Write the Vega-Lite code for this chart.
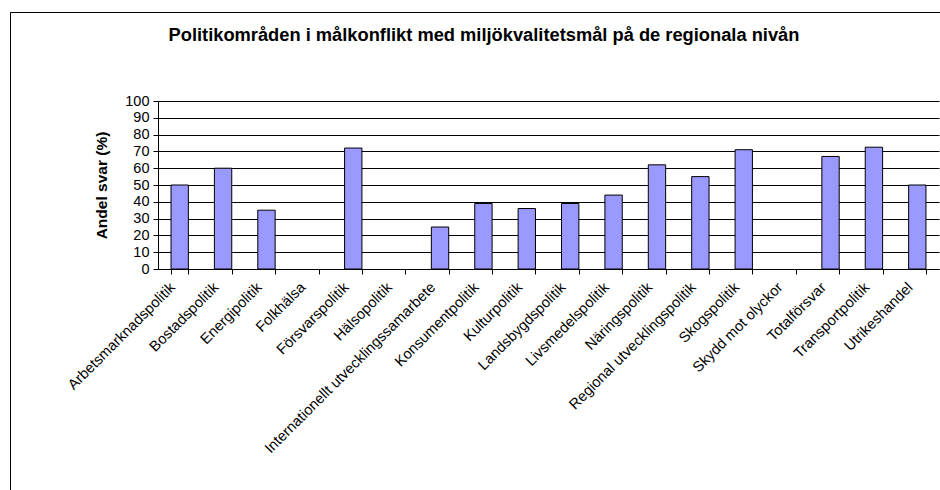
{
  "$schema": "https://vega.github.io/schema/vega-lite/v6.json",
  "autosize": {"type": "none"},
  "padding": {"left": 10, "top": 12, "right": 0, "bottom": 0},
  "width": 930,
  "height": 478,
  "background": "white",
  "config": {
    "font": "Liberation Sans",
    "view": {"stroke": "black", "strokeWidth": 1}
  },
  "title": {
    "text": "Politikområden i målkonflikt med miljökvalitetsmål på de regionala nivån",
    "font": "Liberation Sans",
    "fontSize": 18.3,
    "fontWeight": "bold",
    "color": "black",
    "anchor": "middle",
    "frame": "group",
    "offset": -33,
    "dx": 9
  },
  "data": {
    "values": [
      {"omrade": "Arbetsmarknadspolitik", "andel": 50},
      {"omrade": "Bostadspolitik", "andel": 60},
      {"omrade": "Energipolitik", "andel": 35},
      {"omrade": "Folkhälsa", "andel": 0},
      {"omrade": "Försvarspolitik", "andel": 72},
      {"omrade": "Hälsopolitik", "andel": 0},
      {"omrade": "Internationellt utvecklingssamarbete", "andel": 25},
      {"omrade": "Konsumentpolitik", "andel": 39},
      {"omrade": "Kulturpolitik", "andel": 36},
      {"omrade": "Landsbygdspolitik", "andel": 39},
      {"omrade": "Livsmedelspolitik", "andel": 44},
      {"omrade": "Näringspolitik", "andel": 62},
      {"omrade": "Regional utvecklingspolitik", "andel": 55},
      {"omrade": "Skogspolitik", "andel": 71},
      {"omrade": "Skydd mot olyckor", "andel": 0},
      {"omrade": "Totalförsvar", "andel": 67},
      {"omrade": "Transportpolitik", "andel": 72.5},
      {"omrade": "Utrikeshandel", "andel": 50}
    ]
  },
  "mark": {"type": "bar", "fill": "#9999FF", "stroke": "black", "strokeWidth": 1},
  "encoding": {
    "strokeOpacity": {"condition": {"test": "datum.andel == 0", "value": 0}, "value": 1},
    "x": {
      "field": "omrade",
      "type": "nominal",
      "sort": null,
      "scale": {"range": [148, 929], "paddingInner": 0.6, "paddingOuter": 0.3},
      "axis": {
        "title": null,
        "orient": "bottom",
        "offset": -221,
        "domainColor": "black",
        "tickColor": "black",
        "tickBand": "extent",
        "tickSize": 5,
        "labelAngle": -45,
        "labelAlign": "right",
        "labelBaseline": "middle",
        "labelPadding": 11,
        "labelOffset": -7,
        "labelFont": "Liberation Sans",
        "labelFontSize": 14.7,
        "labelColor": "black",
        "labelLimit": 0,
        "grid": false
      }
    },
    "y": {
      "field": "andel",
      "type": "quantitative",
      "scale": {"domain": [0, 100], "range": [257, 89], "nice": false},
      "axis": {
        "title": "Andel svar (%)",
        "titleFont": "Liberation Sans",
        "titleFontSize": 15.5,
        "titleFontWeight": "bold",
        "titleColor": "black",
        "titlePadding": 15,
        "orient": "left",
        "offset": -148,
        "values": [0, 10, 20, 30, 40, 50, 60, 70, 80, 90, 100],
        "domainColor": "black",
        "tickColor": "black",
        "tickSize": 5,
        "labelPadding": 4,
        "labelFont": "Liberation Sans",
        "labelFontSize": 14.5,
        "labelColor": "black",
        "grid": true,
        "gridColor": "black",
        "gridOpacity": 1,
        "gridWidth": 1
      }
    }
  }
}
